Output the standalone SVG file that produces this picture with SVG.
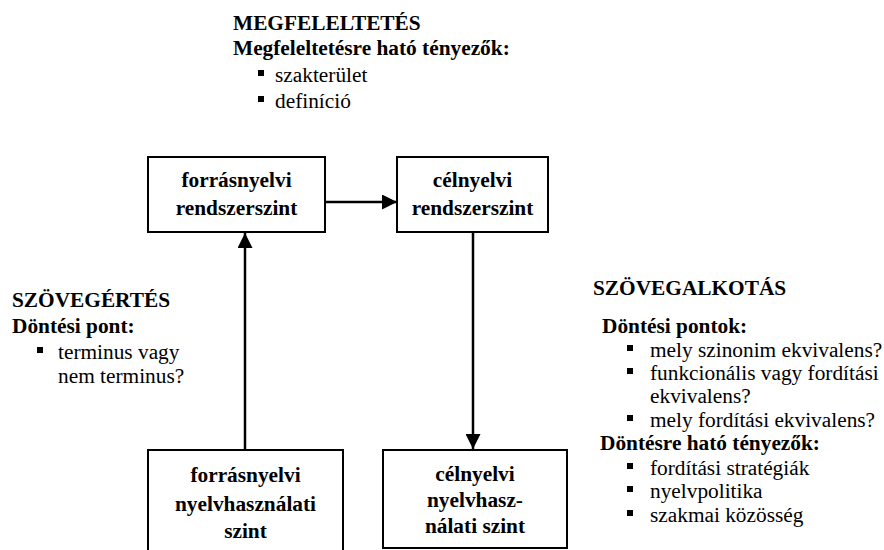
<svg xmlns="http://www.w3.org/2000/svg" width="884" height="550" viewBox="0 0 884 550">
<style>
text{font-family:"Liberation Serif","Times New Roman",serif;font-size:21.33px;fill:#000}
.b{font-weight:bold}
.c{text-anchor:middle}
.box{fill:#fff;stroke:#000;stroke-width:2}
.conn{stroke:#000;stroke-width:2.5;fill:none}
.bul{fill:#000}
</style>
<defs>
<marker id="ah" viewBox="0 0 10 10" refX="10" refY="5" markerWidth="6" markerHeight="6" markerUnits="strokeWidth" orient="auto">
<path d="M0,0 L10,5 L0,10 z" fill="#000"/>
</marker>
</defs>
<g id="megfeleltetes">
<text class="b" x="233" y="30">MEGFELELTETÉS</text>
<text class="b" x="233" y="55">Megfeleltetésre ható tényezők:</text>
<rect class="bul" x="258" y="70" width="6" height="6"/>
<text x="275" y="82">szakterület</text>
<rect class="bul" x="258" y="96" width="6" height="6"/>
<text x="275" y="108">definíció</text>
</g>
<g id="szovegertes">
<text class="b" x="12" y="307">SZÖVEGÉRTÉS</text>
<text class="b" x="12" y="333">Döntési pont:</text>
<rect class="bul" x="37" y="347" width="6" height="6"/>
<text x="58" y="359">terminus vagy</text>
<text x="58" y="383">nem terminus?</text>
</g>
<g id="szovegalkotas">
<text class="b" x="593" y="295">SZÖVEGALKOTÁS</text>
<text class="b" x="602" y="333">Döntési pontok:</text>
<rect class="bul" x="627" y="345" width="6" height="6"/>
<text x="650" y="357">mely szinonim ekvivalens?</text>
<rect class="bul" x="627" y="368" width="6" height="6"/>
<text x="650" y="380">funkcionális vagy fordítási</text>
<text x="650" y="403">ekvivalens?</text>
<rect class="bul" x="627" y="415" width="6" height="6"/>
<text x="650" y="427">mely fordítási ekvivalens?</text>
<text class="b" x="600" y="450">Döntésre ható tényezők:</text>
<rect class="bul" x="627" y="463" width="6" height="6"/>
<text x="650" y="475">fordítási stratégiák</text>
<rect class="bul" x="627" y="486" width="6" height="6"/>
<text x="650" y="498">nyelvpolitika</text>
<rect class="bul" x="627" y="510" width="6" height="6"/>
<text x="650" y="522">szakmai közösség</text>
</g>
<g id="forras-rendszer">
<rect class="box" x="148" y="157" width="177" height="75"/>
<text class="b c" x="236.5" y="187">forrásnyelvi</text>
<text class="b c" x="236.5" y="215">rendszerszint</text>
</g>
<g id="cel-rendszer">
<rect class="box" x="397" y="157" width="151" height="75"/>
<text class="b c" x="472.5" y="187">célnyelvi</text>
<text class="b c" x="472.5" y="215">rendszerszint</text>
</g>
<g id="forras-nyelvhasznalat">
<rect class="box" x="148" y="450" width="195" height="110"/>
<text class="b c" x="245.5" y="482">forrásnyelvi</text>
<text class="b c" x="245.5" y="511">nyelvhasználati</text>
<text class="b c" x="245.5" y="538">szint</text>
</g>
<g id="cel-nyelvhasznalat">
<rect class="box" x="383" y="450" width="184" height="98"/>
<text class="b c" x="475" y="481">célnyelvi</text>
<text class="b c" x="475" y="507">nyelvhasz-</text>
<text class="b c" x="475" y="533">nálati szint</text>
</g>
<g id="connectors">
<line class="conn" x1="325" y1="202" x2="397" y2="202" marker-end="url(#ah)"/>
<line class="conn" x1="245" y1="450" x2="245" y2="233" marker-end="url(#ah)"/>
<line class="conn" x1="473" y1="232" x2="473" y2="449" marker-end="url(#ah)"/>
</g>
</svg>
